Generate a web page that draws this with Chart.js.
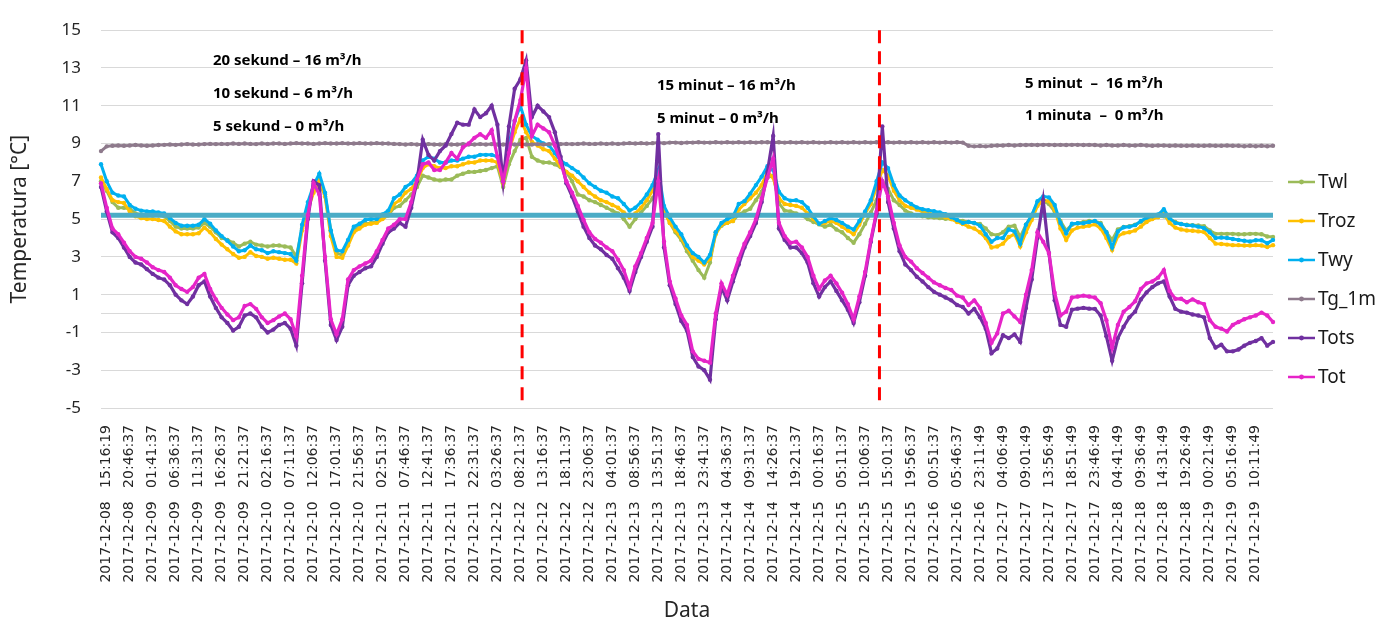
<!DOCTYPE html>
<html>
<head>
<meta charset="utf-8">
<script src="https://cdn.jsdelivr.net/npm/chart.js@4.4.1/dist/chart.umd.min.js"></script>
<style>
  html, body { margin: 0; padding: 0; background: #fff; }
  #wrap { width: 1389px; height: 624px; }
</style>
</head>
<body>
<div id="wrap"><canvas id="tempChart"></canvas></div>
<script>
// time axis labels, one every 4 samples
const tickLabels = [
  '2017-12-08   15:16:19', '2017-12-08   20:46:37', '2017-12-09   01:41:37', '2017-12-09   06:36:37',
  '2017-12-09   11:31:37', '2017-12-09   16:26:37', '2017-12-09   21:21:37', '2017-12-10   02:16:37',
  '2017-12-10   07:11:37', '2017-12-10   12:06:37', '2017-12-10   17:01:37', '2017-12-10   21:56:37',
  '2017-12-11   02:51:37', '2017-12-11   07:46:37', '2017-12-11   12:41:37', '2017-12-11   17:36:37',
  '2017-12-11   22:31:37', '2017-12-12   03:26:37', '2017-12-12   08:21:37', '2017-12-12   13:16:37',
  '2017-12-12   18:11:37', '2017-12-12   23:06:37', '2017-12-13   04:01:37', '2017-12-13   08:56:37',
  '2017-12-13   13:51:37', '2017-12-13   18:46:37', '2017-12-13   23:41:37', '2017-12-14   04:36:37',
  '2017-12-14   09:31:37', '2017-12-14   14:26:37', '2017-12-14   19:21:37', '2017-12-15   00:16:37',
  '2017-12-15   05:11:37', '2017-12-15   10:06:37', '2017-12-15   15:01:37', '2017-12-15   19:56:37',
  '2017-12-16   00:51:37', '2017-12-16   05:46:37', '2017-12-16   23:11:49', '2017-12-17   04:06:49',
  '2017-12-17   09:01:49', '2017-12-17   13:56:49', '2017-12-17   18:51:49', '2017-12-17   23:46:49',
  '2017-12-18   04:41:49', '2017-12-18   09:36:49', '2017-12-18   14:31:49', '2017-12-18   19:26:49',
  '2017-12-19   00:21:49', '2017-12-19   05:16:49', '2017-12-19   10:11:49'
];

const twl = [
  7.0, 6.5, 5.9, 5.6, 5.6, 5.55, 5.3, 5.25, 5.2, 5.2, 5.2, 5.15, 4.9, 4.6, 4.5, 4.5, 4.5, 4.55, 4.8, 4.6,
  4.3, 4.0, 3.9, 3.75, 3.55, 3.7, 3.8, 3.65, 3.6, 3.55, 3.6, 3.6, 3.55, 3.5, 3.0, 4.5, 5.6, 6.5, 6.9, 6.3,
  4.4, 3.2, 3.1, 3.7, 4.4, 4.6, 4.75, 4.8, 4.85, 5.05, 5.2, 5.6,
  5.7, 6.0, 6.3, 6.7, 7.3, 7.2, 7.1, 7.05, 7.1, 7.1, 7.3, 7.4, 7.5, 7.5, 7.55, 7.6, 7.7, 7.8, 6.7, 7.9,
  8.6, 9.2, 9.3, 8.3, 8.1, 8.0, 8.0, 7.9, 7.75, 7.5, 7.0, 6.3, 6.2, 6.0, 5.9, 5.75, 5.6, 5.45, 5.3, 5.0,
  4.6, 5.0, 5.35, 5.7, 6.1, 6.6, 5.5, 4.8, 4.3, 3.9, 3.3,
  2.8, 2.3, 1.9, 2.7, 4.3, 4.65, 4.8, 4.9, 5.25, 5.4, 5.55, 6.0, 6.45, 7.2, 7.3, 5.85, 5.45, 5.4, 5.3, 5.2,
  5.0, 4.85, 4.72, 4.6, 4.7, 4.45, 4.3, 4.0, 3.75, 4.2, 4.75, 5.35, 6.0, 7.0, 6.6, 6.0, 5.75, 5.45, 5.3, 5.2,
  5.15, 5.1, 5.08, 5.05, 5.02, 5.0, 4.95, 4.9, 4.85, 4.78, 4.74,
  4.5, 4.2, 4.15, 4.3, 4.6, 4.65, 4.05, 4.7, 5.2, 5.85, 5.95, 5.8, 5.4, 4.9, 4.4, 4.7, 4.78, 4.85, 4.9, 4.88,
  4.8, 4.3, 3.9, 4.45, 4.58, 4.62, 4.7, 4.85, 5.0, 5.08, 5.15, 5.15, 5.0, 4.85, 4.74, 4.7, 4.68, 4.66, 4.62, 4.4,
  4.22, 4.22, 4.22, 4.22, 4.2, 4.2, 4.22, 4.22, 4.2, 4.08, 4.05
];

const troz = [
  7.2, 6.6, 6.0, 5.9, 5.85, 5.4, 5.15, 5.05, 5.0, 5.0, 4.95, 4.9, 4.6, 4.35, 4.2, 4.2, 4.2, 4.25, 4.55, 4.3,
  3.95, 3.65, 3.4, 3.15, 2.95, 3.0, 3.25, 3.05, 3.0, 2.9, 2.95, 2.9, 2.85, 2.85, 2.65, 4.4, 5.5, 6.4, 7.1, 6.2,
  4.1, 3.0, 2.95, 3.6, 4.3, 4.5, 4.7, 4.75, 4.8, 5.0, 5.2, 5.8,
  6.0, 6.4, 6.6, 7.0, 7.7, 7.9, 7.8, 7.7, 7.7, 7.8, 7.8, 7.9, 8.0, 8.0, 8.1, 8.1, 8.1, 8.0, 6.9, 8.6,
  9.6, 10.3, 9.6, 9.1, 8.9, 8.7, 8.6, 8.2, 7.8, 7.5, 7.3, 7.0, 6.7, 6.4, 6.2, 6.0, 5.9, 5.75, 5.6, 5.35,
  5.1, 5.3, 5.6, 6.0, 6.5, 7.2, 5.4, 4.8, 4.4, 4.0, 3.5,
  3.0, 2.8, 2.6, 2.9, 4.2, 4.7, 4.8, 4.9, 5.5, 5.8, 6.1, 6.4, 6.8, 7.5, 7.2, 6.1, 5.8, 5.75, 5.7, 5.6,
  5.3, 5.0, 4.75, 4.8, 4.9, 4.8, 4.6, 4.4, 4.2, 4.7, 5.3, 5.8, 6.7, 7.6, 7.3, 6.5, 6.0, 5.7, 5.6, 5.5,
  5.4, 5.33, 5.25, 5.17, 5.1, 5.0, 4.85, 4.74, 4.6, 4.5, 4.3,
  4.0, 3.5, 3.55, 3.7, 4.05, 4.2, 3.55, 4.3, 4.95, 5.7, 6.0, 5.95, 5.5, 4.5, 3.9, 4.4, 4.55, 4.6, 4.65, 4.72,
  4.5, 4.0, 3.36, 4.1, 4.25, 4.3, 4.4, 4.6, 4.85, 5.0, 5.1, 5.28, 4.8, 4.55, 4.45, 4.4, 4.38, 4.35, 4.32, 4.0,
  3.7, 3.68, 3.65, 3.62, 3.62, 3.6, 3.6, 3.62, 3.6, 3.52, 3.62
];

const twy = [
  7.9, 7.0, 6.4, 6.25, 6.2, 5.75, 5.55, 5.45, 5.4, 5.4, 5.35, 5.3, 5.05, 4.8, 4.65, 4.65, 4.65, 4.7, 5.0, 4.75,
  4.4, 4.1, 3.85, 3.55, 3.3, 3.35, 3.6, 3.4, 3.35, 3.2, 3.3, 3.25, 3.2, 3.15, 2.8, 4.7, 5.9, 6.8, 7.4, 6.4,
  4.4, 3.35, 3.3, 3.9, 4.6, 4.75, 4.95, 5.0, 5.0, 5.25, 5.45, 6.1,
  6.3, 6.7, 6.9, 7.3, 8.1, 8.3, 8.2, 8.0, 8.0, 8.1, 8.1, 8.2, 8.3, 8.3, 8.4, 8.4, 8.4, 8.3, 7.2, 9.0,
  10.2, 11.0, 10.0, 9.4, 9.2, 9.0, 8.9, 8.5, 8.1, 7.9, 7.7, 7.5, 7.2, 6.9, 6.7, 6.5, 6.4, 6.2, 6.1, 5.8,
  5.45, 5.6, 5.9, 6.3, 6.8, 7.6, 5.7, 5.1, 4.6, 4.2, 3.6,
  3.2, 3.0, 2.7, 3.1, 4.3, 4.8, 5.0, 5.15, 5.8, 5.95, 6.35, 6.8, 7.25, 7.8, 7.6, 6.45, 6.1, 5.98, 6.0, 5.9,
  5.6, 5.15, 4.75, 4.9, 5.05, 4.95, 4.8, 4.6, 4.45, 4.9, 5.4, 6.0, 7.0, 8.0, 7.7, 6.8, 6.25, 6.0, 5.8, 5.62,
  5.52, 5.47, 5.42, 5.35, 5.26, 5.1, 4.95, 4.8, 4.85, 4.8, 4.65,
  4.2, 3.8, 4.0, 4.0, 4.45, 4.35, 3.7, 4.7, 5.2, 5.95, 6.2, 6.15, 5.75, 4.8, 4.25, 4.75, 4.78, 4.78, 4.85, 4.9,
  4.72, 4.3, 3.5, 4.35, 4.57, 4.6, 4.68, 4.9, 5.08, 5.15, 5.24, 5.52, 5.05, 4.8, 4.74, 4.68, 4.66, 4.6, 4.52, 4.3,
  4.0, 4.02, 4.0, 3.95, 3.9, 3.85, 3.82, 3.88, 3.88, 3.72, 3.9
];

const tg1m = [
  8.6, 8.85, 8.88, 8.9, 8.88, 8.9, 8.92, 8.9, 8.88, 8.9, 8.92, 8.93, 8.95, 8.93, 8.95, 8.97, 8.95, 8.95, 8.97, 8.98,
  8.97, 8.98, 8.97, 9.0, 8.98, 9.0, 8.98, 8.97, 9.0, 8.98, 9.0, 9.0, 8.98, 9.0, 9.02, 9.0, 9.0, 8.98, 9.0, 9.02,
  9.0, 9.0, 9.02, 9.0, 9.0, 9.02, 9.0, 9.0, 9.02, 9.0, 9.0, 8.98, 8.97, 8.95, 8.97, 8.95, 8.95, 8.97, 8.95, 8.95,
  8.97, 8.95, 8.95, 8.97, 8.95, 8.95, 8.97, 8.95, 8.97, 8.95, 8.95, 8.97, 8.95, 8.97, 8.95, 8.95, 8.97, 8.95, 8.97, 8.98,
  8.97, 8.98, 8.97, 8.98, 9.0, 8.98, 8.98, 9.0, 8.98, 9.0, 8.98, 9.0, 9.02, 9.0, 9.02, 9.0, 9.02, 9.05, 9.02, 9.05,
  9.05, 9.03, 9.05, 9.05, 9.07, 9.05, 9.05, 9.07, 9.05, 9.07, 9.05, 9.07, 9.05, 9.07, 9.05, 9.07, 9.07, 9.05, 9.07, 9.05,
  9.07, 9.05, 9.07, 9.05, 9.07, 9.05, 9.05, 9.07, 9.05, 9.07, 9.05, 9.07, 9.05, 9.07, 9.05, 9.07, 9.05, 9.07, 9.05, 9.07,
  9.05, 9.07, 9.05, 9.07, 9.05, 9.07, 9.05, 9.07, 9.05, 9.07, 9.05, 8.88, 8.85, 8.87, 8.85, 8.88, 8.9, 8.9, 8.92, 8.9,
  8.92, 8.92, 8.93, 8.92, 8.93, 8.93, 8.92, 8.93, 8.92, 8.93, 8.93, 8.92, 8.93, 8.92, 8.9, 8.92, 8.9, 8.9, 8.92, 8.9,
  8.9, 8.92, 8.9, 8.88, 8.9, 8.9, 8.88, 8.9, 8.88, 8.88, 8.9, 8.88, 8.88, 8.9, 8.88, 8.88, 8.9, 8.88, 8.88, 8.86,
  8.88, 8.86, 8.88, 8.86, 8.88
];

const tots = [
  6.7, 5.4, 4.3, 4.0, 3.5, 3.0, 2.7, 2.6, 2.35, 2.1, 1.9, 1.8, 1.5, 1.0, 0.7, 0.5, 0.9, 1.5, 1.7, 0.9,
  0.3, -0.2, -0.5, -0.9, -0.7, -0.1, 0.0, -0.2, -0.7, -1.0, -0.85, -0.6, -0.5, -0.8, -1.7, 1.6, 5.0, 7.0, 6.8, 2.8,
  -0.6, -1.4, -0.7, 1.5, 2.0, 2.2, 2.4, 2.5, 3.0, 3.7, 4.3, 4.5,
  4.8, 4.6, 5.6, 7.0, 9.2, 8.4, 8.1, 8.6, 8.9, 9.5, 10.1, 10.0, 10.0, 10.8, 10.4, 10.6, 11.0, 10.0, 7.0, 9.9,
  11.9, 12.4, 13.4, 10.4, 11.0, 10.7, 10.4, 9.6, 8.3, 6.9, 6.2, 5.4, 4.6, 4.0, 3.6, 3.4, 3.1, 2.9, 2.4, 1.9,
  1.2, 2.2, 3.0, 3.8, 4.6, 9.5, 3.5, 1.5, 0.5, -0.4, -0.9,
  -2.3, -2.8, -3.0, -3.5, -0.3, 1.4, 0.7, 1.7, 2.6, 3.5, 4.1, 4.8, 5.9, 7.5, 9.4, 4.5, 3.9, 3.5, 3.5, 3.2,
  2.7, 1.6, 0.9, 1.4, 1.7, 1.2, 0.7, 0.2, -0.5, 0.6, 2.0, 3.8, 5.3, 9.9, 5.9, 4.5, 3.3, 2.6, 2.3, 1.95,
  1.7, 1.4, 1.15, 1.0, 0.85, 0.7, 0.45, 0.35, 0.0, 0.25, -0.2,
  -0.8, -2.1, -1.85, -1.15, -1.3, -1.1, -1.5, 0.3, 1.8, 4.0, 6.0, 3.2, 0.7, -0.6, -0.7, 0.2, 0.26, 0.3, 0.26, 0.25,
  -0.1, -1.2, -2.5, -1.3, -0.7, -0.2, 0.1, 0.75, 1.12, 1.4, 1.6, 1.7, 0.9, 0.25, 0.1, 0.05, -0.05, -0.1, -0.2, -1.3,
  -1.8, -1.65, -2.0, -2.0, -1.9, -1.7, -1.55, -1.45, -1.3, -1.7, -1.5
];

const tot = [
  6.9, 5.6, 4.5, 4.2, 3.75, 3.3, 3.0, 2.9, 2.7, 2.45, 2.3, 2.2, 1.9, 1.5, 1.3, 1.15, 1.4, 1.9, 2.1, 1.3,
  0.75, 0.3, -0.05, -0.35, -0.2, 0.4, 0.5, 0.25, -0.2, -0.5, -0.35, -0.15, 0.0, -0.3, -1.2, 2.0, 5.2, 6.9, 6.3, 3.0,
  -0.3, -1.1, -0.3, 1.8, 2.3, 2.5, 2.65, 2.8, 3.3, 3.9, 4.5, 4.7,
  5.0, 5.0, 5.9, 7.1, 7.9, 8.0, 7.6, 7.6, 8.0, 8.5, 8.2, 8.8, 9.0, 9.3, 9.5, 9.3, 9.7, 8.3, 7.0, 8.5,
  10.2, 11.3, 13.0, 9.4, 10.0, 9.8, 9.6, 8.9, 8.0, 7.0, 6.4, 5.7, 4.95, 4.3, 3.95, 3.75, 3.5, 3.3, 2.85, 2.3,
  1.4, 2.5, 3.2, 4.0, 4.8, 7.0, 3.8, 1.7, 0.8, -0.1, -0.6,
  -2.0, -2.4, -2.5, -2.6, 0.0, 1.6, 1.0, 2.0, 2.9, 3.7, 4.3, 5.0, 6.1, 7.2, 8.2, 4.8, 4.1, 3.75, 3.8, 3.5,
  3.0, 2.0, 1.3, 1.75, 2.0, 1.6, 1.1, 0.5, -0.3, 0.9, 2.2, 3.9, 5.4, 7.0, 6.2, 4.8, 3.6, 3.0, 2.75, 2.4,
  2.15, 1.9, 1.65, 1.5, 1.35, 1.25, 0.95, 0.85, 0.45, 0.7, 0.3,
  -0.5, -1.55, -1.05, 0.0, 0.15, -0.15, -0.45, 1.0, 2.3, 4.3, 3.8, 3.2, 1.1, -0.1, 0.1, 0.85, 0.9, 0.95, 0.9, 0.85,
  0.55, -0.35, -1.8, -0.6, 0.1, 0.35, 0.65, 1.3, 1.6, 1.7, 1.9, 2.3, 1.2, 0.78, 0.78, 0.6, 0.75, 0.6, 0.5, -0.35,
  -0.7, -0.8, -0.95, -0.6, -0.45, -0.3, -0.2, -0.1, 0.05, -0.1, -0.45
];

// flat reference level drawn across the plot
const refLevel = 5.2;
// sample positions of the red dashed phase markers
const phaseBreaks = [73.3, 135.5];
const notes = [
  ['20 sekund – 16 m³/h', '10 sekund – 6 m³/h', '5 sekund – 0 m³/h'],
  ['15 minut – 16 m³/h', '5 minut – 0 m³/h'],
  ['5 minut  –  16 m³/h', '1 minuta  –  0 m³/h']
];

const samplesPerTick = 4;
const categories = twl.map((_, i) =>
  (i % samplesPerTick === 1 && tickLabels[(i - 1) / samplesPerTick]) || '');

function series(label, data, color, order, width) {
  return {
    label: label,
    data: data,
    borderColor: color,
    backgroundColor: color,
    pointBackgroundColor: color,
    pointBorderWidth: 0,
    pointRadius: 2.2,
    borderWidth: width,
    tension: 0,
    order: order
  };
}

// dashed markers, text notes and the side legend
const overlays = {
  id: 'overlays',
  afterDatasetsDraw(chart) {
    const { ctx, chartArea, scales } = chart;
    ctx.save();
    ctx.strokeStyle = '#FF0000';
    ctx.lineWidth = 3;
    ctx.setLineDash([13, 8]);
    phaseBreaks.forEach(function (p) {
      const x = scales.x.getPixelForValue(p);
      ctx.beginPath();
      ctx.moveTo(x, chartArea.top);
      ctx.lineTo(x, chartArea.bottom);
      ctx.stroke();
    });
    ctx.restore();
  },
  afterDraw(chart) {
    const { ctx, chartArea } = chart;
    ctx.save();
    // notes
    const spots = [[112, 31, 33], [556, 56, 33], [924, 54, 32]];
    ctx.font = 'bold 15px "Noto Sans"';
    ctx.fillStyle = '#000';
    ctx.textBaseline = 'middle';
    ctx.textAlign = 'left';
    notes.forEach(function (group, g) {
      group.forEach(function (line, k) {
        ctx.fillText(line, chartArea.left + spots[g][0], chartArea.top + spots[g][1] + k * spots[g][2]);
      });
    });
    // legend
    const items = chart.data.datasets.filter(d => d.label);
    const lx = chartArea.right + 15;
    let ly = 182;
    ctx.font = '19px "Noto Sans"';
    items.forEach(function (d) {
      ctx.strokeStyle = d.borderColor;
      ctx.lineWidth = 2.5;
      ctx.beginPath();
      ctx.moveTo(lx, ly);
      ctx.lineTo(lx + 27, ly);
      ctx.stroke();
      ctx.fillStyle = d.borderColor;
      ctx.beginPath();
      ctx.arc(lx + 13.5, ly, 2.4, 0, Math.PI * 2);
      ctx.fill();
      ctx.fillStyle = '#1a1a1a';
      ctx.fillText(d.label, lx + 30, ly + 1);
      ly += 39;
    });
    ctx.restore();
  }
};

const ctx = document.getElementById('tempChart').getContext('2d');
const chart = new Chart(ctx, {
  type: 'line',
  data: {
    labels: categories,
    datasets: [
      series('Twl', twl, '#9BBB59', 7, 3),
      series('Troz', troz, '#FFC000', 6, 3),
      series('Twy', twy, '#00B0F0', 5, 3),
      {
        label: '',
        data: categories.map(() => refLevel),
        borderColor: '#4BACC6',
        borderWidth: 5,
        pointRadius: 0,
        order: 4
      },
      series('Tg_1m', tg1m, '#8E7A8C', 3, 3),
      series('Tots', tots, '#7030A0', 2, 3.2),
      series('Tot', tot, '#E624C8', 1, 3.2)
    ]
  },
  options: {
    responsive: true,
    maintainAspectRatio: false,
    animation: false,
    devicePixelRatio: 1,
    layout: { padding: { top: 22, right: 116, bottom: 0, left: 0 } },
    plugins: {
      legend: { display: false },
      tooltip: { enabled: false }
    },
    scales: {
      x: {
        type: 'category',
        offset: false,
        grid: { display: false, drawTicks: false },
        border: { display: false },
        ticks: {
          autoSkip: false,
          maxRotation: 90,
          minRotation: 90,
          padding: 17,
          color: '#262626',
          font: { family: 'DejaVu Sans', size: 14 }
        },
        title: {
          display: true,
          text: 'Data',
          color: '#262626',
          font: { family: 'Noto Sans', size: 21 },
          padding: { top: 0, bottom: 0 }
        },
        afterFit(scale) { scale.height = 216; }
      },
      y: {
        min: -5,
        max: 15,
        grid: { color: '#D9D9D9', drawTicks: false },
        border: { display: false },
        ticks: {
          stepSize: 2,
          padding: 20,
          color: '#262626',
          font: { family: 'Noto Sans', size: 17 },
          callback: v => (v === 0 ? '' : v)
        },
        afterBuildTicks(scale) {
          scale.ticks.push({ value: 0 });
          scale.ticks.sort((a, b) => a.value - b.value);
        },
        title: {
          display: true,
          text: 'Temperatura [°C]',
          color: '#262626',
          font: { family: 'Noto Sans', size: 21 },
          padding: { top: 7, bottom: 0 }
        },
        afterFit(scale) { scale.width = 101; }
      }
    }
  },
  plugins: [overlays]
});
</script>
</body>
</html>
